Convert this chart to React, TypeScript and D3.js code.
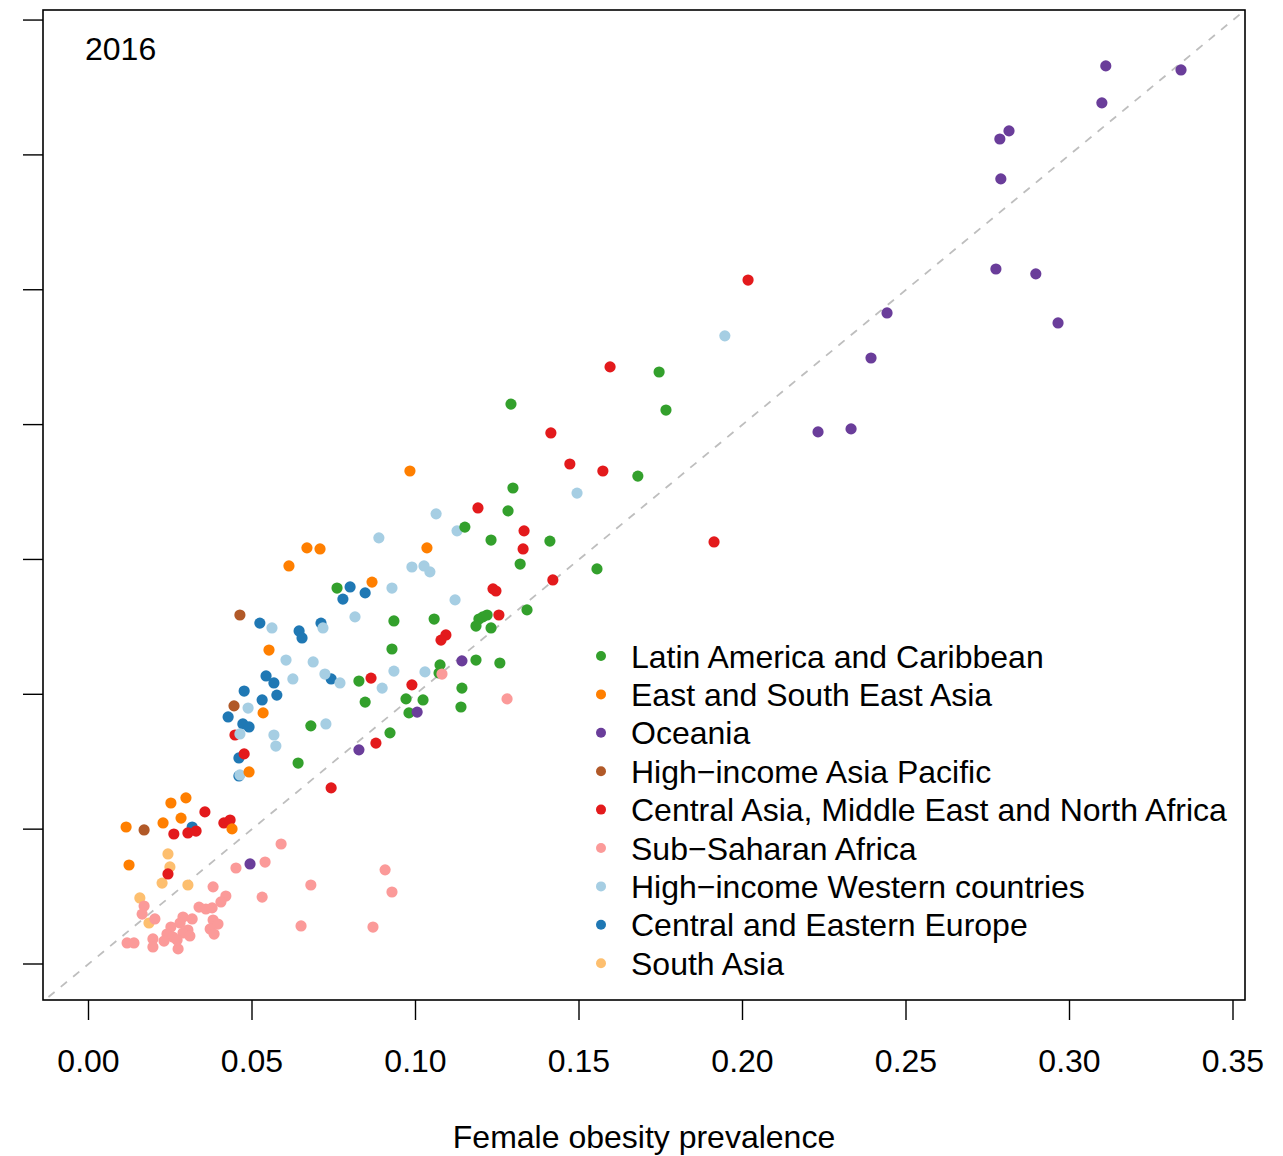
import React from "react";
import * as d3 from "d3";

// Region labels and colours (legend order)
const regions = [
  "Latin America and Caribbean",
  "East and South East Asia",
  "Oceania",
  "High\u2212income Asia Pacific",
  "Central Asia, Middle East and North Africa",
  "Sub\u2212Saharan Africa",
  "High\u2212income Western countries",
  "Central and Eastern Europe",
  "South Asia",
];
const regionColors = [
  "#33A02C", "#FF7F00", "#6A3D9A", "#B15928", "#E31A1C",
  "#FB9A99", "#A6CEE3", "#1F78B4", "#FDBF6F",
];

// [female, male] obesity prevalence per country, by region
const latinAmerica: [number, number][] = [
  [0.1298, 0.1765], [0.1283, 0.168], [0.1151, 0.162], [0.1231, 0.1572], [0.1411, 0.1568],
  [0.132, 0.1483], [0.1341, 0.1313], [0.1745, 0.2195], [0.1766, 0.2054], [0.168, 0.1809],
  [0.1292, 0.2076], [0.1555, 0.1465], [0.076, 0.1394], [0.0934, 0.1272], [0.1057, 0.1279],
  [0.1194, 0.1279], [0.1206, 0.1287], [0.1219, 0.1294], [0.1185, 0.1253], [0.1231, 0.1246],
  [0.0928, 0.1168], [0.1185, 0.1127], [0.1258, 0.1116], [0.1075, 0.1109], [0.1072, 0.1079],
  [0.1142, 0.1023], [0.0971, 0.0983], [0.1023, 0.0979], [0.1139, 0.0953], [0.098, 0.0931],
  [0.0846, 0.0971], [0.0827, 0.1049], [0.0922, 0.0857], [0.068, 0.0883], [0.0641, 0.0745],
];
const eastAsia: [number, number][] = [
  [0.0983, 0.1828], [0.0668, 0.1543], [0.0708, 0.1539], [0.0613, 0.1476], [0.1035, 0.1543],
  [0.0867, 0.1416], [0.0552, 0.1164], [0.0534, 0.0931], [0.0491, 0.0712], [0.0252, 0.0597],
  [0.0298, 0.0616], [0.0115, 0.0508], [0.0228, 0.0523], [0.0283, 0.0541], [0.0439, 0.0501],
  [0.0124, 0.0367],
];
const oceania: [number, number][] = [
  [0.3111, 0.333], [0.3341, 0.3315], [0.3099, 0.3193], [0.2815, 0.3089], [0.2787, 0.3059],
  [0.279, 0.2911], [0.2775, 0.2577], [0.2897, 0.2559], [0.2965, 0.2377], [0.2442, 0.2414],
  [0.2393, 0.2247], [0.2231, 0.1973], [0.2332, 0.1984], [0.1142, 0.1124], [0.1005, 0.0934],
  [0.0827, 0.0794], [0.0494, 0.0371],
];
const asiaPacific: [number, number][] = [
  [0.0463, 0.1294], [0.0445, 0.0957], [0.017, 0.0497],
];
const centralAsiaMENA: [number, number][] = [
  [0.2017, 0.2536], [0.1595, 0.2214], [0.1414, 0.1969], [0.1472, 0.1854], [0.1573, 0.1828],
  [0.1191, 0.1691], [0.1332, 0.1606], [0.1329, 0.1539], [0.1913, 0.1565], [0.142, 0.1424],
  [0.1237, 0.1391], [0.1246, 0.1383], [0.1255, 0.1294], [0.1093, 0.122], [0.1078, 0.1201],
  [0.0864, 0.106], [0.0989, 0.1035], [0.0879, 0.0819], [0.0742, 0.0653], [0.0448, 0.0849],
  [0.0476, 0.0779], [0.0356, 0.0564], [0.0261, 0.0482], [0.0304, 0.0486], [0.0329, 0.0493],
  [0.0414, 0.0523], [0.0433, 0.0534], [0.0243, 0.0334],
];
const subSaharan: [number, number][] = [
  [0.1081, 0.1075], [0.128, 0.0983], [0.0589, 0.0445], [0.054, 0.0378], [0.0451, 0.0356],
  [0.0907, 0.0349], [0.0928, 0.0267], [0.068, 0.0293], [0.0531, 0.0248], [0.065, 0.0141],
  [0.087, 0.0137], [0.0381, 0.0286], [0.042, 0.0252], [0.0405, 0.023], [0.0338, 0.0211],
  [0.0359, 0.0204], [0.0378, 0.0208], [0.017, 0.0215], [0.0164, 0.0185], [0.0203, 0.0167],
  [0.0289, 0.0174], [0.0317, 0.0167], [0.028, 0.0152], [0.0381, 0.0163], [0.0396, 0.0148],
  [0.0252, 0.0137], [0.0304, 0.0126], [0.0289, 0.0115], [0.0372, 0.013], [0.024, 0.0111],
  [0.0258, 0.01], [0.031, 0.0104], [0.0231, 0.0085], [0.0384, 0.0111], [0.0197, 0.0093],
  [0.0118, 0.0078], [0.0139, 0.0078], [0.0197, 0.0063], [0.0274, 0.0056], [0.0271, 0.0089],
];
const westernHighIncome: [number, number][] = [
  [0.1946, 0.2329], [0.1494, 0.1746], [0.1063, 0.1669], [0.1127, 0.1606], [0.0888, 0.158],
  [0.0989, 0.1472], [0.1026, 0.1476], [0.1044, 0.1454], [0.0928, 0.1394], [0.1121, 0.135],
  [0.0815, 0.1287], [0.0561, 0.1246], [0.0717, 0.1246], [0.0604, 0.1127], [0.0687, 0.112],
  [0.0723, 0.1075], [0.0769, 0.1042], [0.0625, 0.1057], [0.0934, 0.1086], [0.1029, 0.1083],
  [0.0898, 0.1023], [0.0488, 0.0949], [0.0463, 0.0853], [0.0567, 0.0849], [0.0573, 0.0808],
  [0.0726, 0.089], [0.0463, 0.0701],
];
const easternEurope: [number, number][] = [
  [0.08, 0.1398], [0.0778, 0.1353], [0.0846, 0.1376], [0.0524, 0.1264], [0.0644, 0.1235],
  [0.0653, 0.1209], [0.0711, 0.1264], [0.0742, 0.1057], [0.0543, 0.1068], [0.0567, 0.1042],
  [0.0476, 0.1012], [0.0576, 0.0997], [0.0531, 0.0979], [0.0427, 0.0916], [0.0472, 0.089],
  [0.0491, 0.0879], [0.046, 0.0764], [0.046, 0.0697], [0.0317, 0.0508],
];
const southAsia: [number, number][] = [
  [0.0243, 0.0408], [0.0249, 0.036], [0.0225, 0.03], [0.0304, 0.0293], [0.0157, 0.0245],
  [0.0185, 0.0152],
];

const seriesByRegion = [
  latinAmerica, eastAsia, oceania, asiaPacific, centralAsiaMENA,
  subSaharan, westernHighIncome, easternEurope, southAsia,
];
// drawing order (index into regions)
const drawOrder = [8, 7, 4, 6, 1, 0, 5, 3, 2];

const xTicks = [0, 0.05, 0.1, 0.15, 0.2, 0.25, 0.3, 0.35];
const yTicks = [0, 0.05, 0.1, 0.15, 0.2, 0.25, 0.3, 0.35];
const yearLabel = "2016";
const xTitle = "Female obesity prevalence";

const W = 1283;
const H = 1156;
const box = { left: 43, top: 10, right: 1245, bottom: 1000 };
const FONT = "'Liberation Sans', Arial, Helvetica, sans-serif";
const FS = 32;

export default function App() {
  const x = d3.scaleLinear().domain([0, 0.35]).range([88.5, 88.5 + 0.35 * 3270]);
  const y = d3.scaleLinear().domain([0, 0.35]).range([964, 964 - 0.35 * 2697]);

  const line = d3.line<[number, number]>()
    .x((d) => x(d[0]))
    .y((d) => y(d[1]));
  const diag: [number, number][] = [[-0.05, -0.05], [0.4, 0.4]];

  const legendX = 601;
  const legendY0 = 656;
  const legendStep = 38.4;

  return (
    <svg
      width={W}
      height={H}
      style={{ position: "absolute", left: 0, top: 0, background: "#fff" }}
      fontFamily={FONT}
    >
      <defs>
        <clipPath id="plotclip">
          <rect x={box.left} y={box.top} width={box.right - box.left} height={box.bottom - box.top} />
        </clipPath>
      </defs>
      <rect x={0} y={0} width={W} height={H} fill="#fff" />

      <path
        d={line(diag) || ""}
        stroke="#BEBEBE"
        strokeWidth={1.8}
        strokeDasharray="8,8"
        fill="none"
        clipPath="url(#plotclip)"
      />

      <g clipPath="url(#plotclip)">
        {drawOrder.map((ri) =>
          seriesByRegion[ri].map((d, i) => (
            <circle key={`${ri}-${i}`} cx={x(d[0])} cy={y(d[1])} r={5.6} fill={regionColors[ri]} />
          ))
        )}
      </g>

      <rect
        x={box.left}
        y={box.top}
        width={box.right - box.left}
        height={box.bottom - box.top}
        fill="none"
        stroke="#000"
        strokeWidth={1.6}
      />

      {/* x axis */}
      {xTicks.map((t) => (
        <g key={`xt${t}`}>
          <line x1={x(t)} x2={x(t)} y1={box.bottom} y2={box.bottom + 20} stroke="#000" strokeWidth={1.4} />
          <text x={x(t)} y={1071.5} fontSize={FS} textAnchor="middle" fill="#000">
            {t.toFixed(2)}
          </text>
        </g>
      ))}
      <text x={644} y={1148} fontSize={FS} textAnchor="middle" fill="#000">{xTitle}</text>

      {/* y axis ticks */}
      {yTicks.map((t) => (
        <line key={`yt${t}`} x1={box.left - 20} x2={box.left} y1={y(t)} y2={y(t)} stroke="#000" strokeWidth={1.4} />
      ))}

      <text x={85} y={59.5} fontSize={FS} fill="#000">{yearLabel}</text>

      {/* legend */}
      {regions.map((r, i) => (
        <g key={r}>
          <circle cx={legendX} cy={legendY0 + i * legendStep} r={5} fill={regionColors[i]} />
          <text x={631} y={legendY0 + i * legendStep + 11.5} fontSize={FS} fill="#000">{r}</text>
        </g>
      ))}
    </svg>
  );
}
